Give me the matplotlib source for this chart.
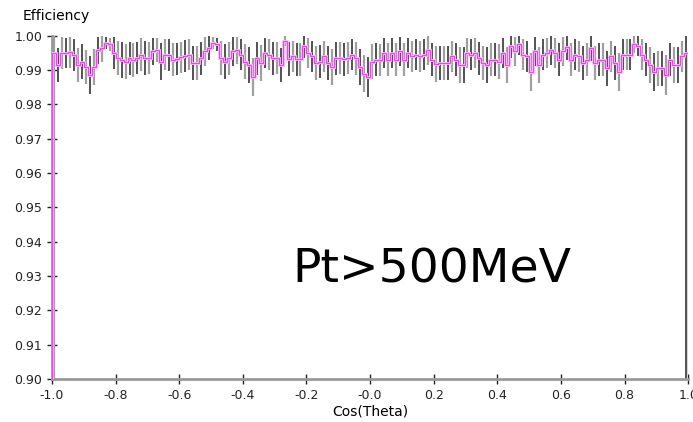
import numpy as np
import matplotlib
matplotlib.use("Agg")
import matplotlib.pyplot as plt
from matplotlib.ticker import FormatStrFormatter

# 160 bins in cos(theta), -1 .. 1
x_lo, x_hi = -1.0, 1.0
n_bins = 160

eff = [
    0.9950, 0.9915, 0.9950, 0.9950, 0.9952, 0.9945, 0.9915, 0.9925, 0.9910, 0.9885,
    0.9910, 0.9958, 0.9965, 0.9980, 0.9975, 0.9950, 0.9935, 0.9930, 0.9925, 0.9935,
    0.9930, 0.9935, 0.9945, 0.9935, 0.9935, 0.9955,
    0.9960, 0.9925, 0.9945, 0.9945, 0.9930, 0.9933, 0.9938, 0.9942, 0.9945, 0.9920,
    0.9920, 0.9935, 0.9955, 0.9965, 0.9980, 0.9975, 0.9935, 0.9925, 0.9935, 0.9955,
    0.9958, 0.9945, 0.9925, 0.9915, 0.9880,
    0.9935, 0.9920, 0.9950, 0.9945, 0.9935, 0.9935, 0.9915, 0.9985, 0.9932, 0.9940,
    0.9932, 0.9932, 0.9970, 0.9950, 0.9940, 0.9920, 0.9925, 0.9940, 0.9920, 0.9910,
    0.9935, 0.9935, 0.9932, 0.9935, 0.9945, 0.9935, 0.9910,
    0.9890, 0.9880, 0.9925, 0.9930, 0.9930, 0.9950, 0.9930, 0.9950, 0.9930, 0.9955,
    0.9930, 0.9950, 0.9940, 0.9945, 0.9940, 0.9945, 0.9958, 0.9930, 0.9918, 0.9920,
    0.9920, 0.9920, 0.9940, 0.9930, 0.9915, 0.9915,
    0.9950, 0.9945, 0.9950, 0.9935, 0.9920, 0.9915, 0.9930, 0.9930, 0.9925, 0.9950,
    0.9915, 0.9970, 0.9955, 0.9975, 0.9945, 0.9940, 0.9895, 0.9955, 0.9915, 0.9945,
    0.9950, 0.9958, 0.9950, 0.9930, 0.9955, 0.9967, 0.9930,
    0.9945, 0.9940, 0.9920, 0.9930, 0.9965, 0.9920, 0.9930, 0.9930, 0.9905, 0.9940,
    0.9920, 0.9895, 0.9945, 0.9945, 0.9945, 0.9975, 0.9970, 0.9945, 0.9930, 0.9915,
    0.9895, 0.9905, 0.9905, 0.9885, 0.9930, 0.9915, 0.9915, 0.9940, 0.9950,
]

err = [
    0.1200, 0.0050, 0.0048, 0.0045, 0.0046, 0.0047, 0.0050, 0.0052, 0.0050, 0.0055,
    0.0052, 0.0040, 0.0042, 0.0018, 0.0020, 0.0048, 0.0050, 0.0052, 0.0050, 0.0048,
    0.0050, 0.0046, 0.0048, 0.0050, 0.0047, 0.0040,
    0.0035, 0.0055, 0.0045, 0.0046, 0.0048, 0.0047, 0.0045, 0.0046, 0.0045, 0.0050,
    0.0050, 0.0048, 0.0042, 0.0035, 0.0018, 0.0020, 0.0050, 0.0052, 0.0048, 0.0042,
    0.0040, 0.0045, 0.0052, 0.0052, 0.0055,
    0.0048, 0.0052, 0.0044, 0.0045, 0.0048, 0.0046, 0.0050, 0.0015, 0.0050, 0.0045,
    0.0048, 0.0048, 0.0035, 0.0044, 0.0046, 0.0050, 0.0048, 0.0046, 0.0050, 0.0052,
    0.0048, 0.0047, 0.0048, 0.0046, 0.0045, 0.0048, 0.0052,
    0.0055, 0.0058, 0.0050, 0.0048, 0.0047, 0.0045, 0.0048, 0.0044, 0.0048, 0.0042,
    0.0048, 0.0044, 0.0046, 0.0045, 0.0046, 0.0045, 0.0042, 0.0048, 0.0052, 0.0050,
    0.0050, 0.0050, 0.0046, 0.0048, 0.0052, 0.0052,
    0.0044, 0.0045, 0.0044, 0.0048, 0.0050, 0.0052, 0.0048, 0.0048, 0.0050, 0.0044,
    0.0052, 0.0035, 0.0042, 0.0030, 0.0045, 0.0046, 0.0055, 0.0042, 0.0052, 0.0045,
    0.0044, 0.0042, 0.0044, 0.0048, 0.0042, 0.0038, 0.0048,
    0.0045, 0.0046, 0.0050, 0.0048, 0.0038, 0.0050, 0.0048, 0.0048, 0.0052, 0.0046,
    0.0050, 0.0055, 0.0045, 0.0045, 0.0045, 0.0025, 0.0030, 0.0045, 0.0048, 0.0052,
    0.0055, 0.0052, 0.0052, 0.0058, 0.0048, 0.0052, 0.0052, 0.0045, 0.1200,
]

edges = np.linspace(x_lo, x_hi, n_bins + 1)
centers = 0.5 * (edges[:-1] + edges[1:])
eff = np.array(eff)
err = np.array(err)

fig = plt.figure(figsize=(6.93, 4.22), dpi=100)
ax = fig.add_axes([0.075, 0.102, 0.918, 0.813])

# error bars, alternating shades like the original (last one dark)
dark = np.arange(n_bins) % 2 == 1
ax.vlines(centers[dark], (eff - err)[dark], (eff + err)[dark], color="#444444", lw=1.3, zorder=2)
ax.vlines(centers[~dark], (eff - err)[~dark], (eff + err)[~dark], color="#a0a0a0", lw=1.6, zorder=2)

# step histogram
ax.stairs(eff, edges, baseline=0.0, color="#ffc4ff", lw=2.0, zorder=3)
ax.stairs(eff, edges, baseline=0.0, color="#ee44ee", lw=0.9, zorder=4)

ax.set_xlim(x_lo, x_hi)
ax.set_ylim(0.90, 1.00)
ax.set_xticks(np.arange(-1.0, 1.01, 0.2))
ax.set_yticks(np.arange(0.90, 1.001, 0.01))
ax.xaxis.set_major_formatter(FormatStrFormatter("%.1f"))
ax.yaxis.set_major_formatter(FormatStrFormatter("%.2f"))
ax.tick_params(direction="inout", length=7, width=1, colors="#222222", labelsize=9)

for s in ["top", "right"]:
    ax.spines[s].set_visible(False)
for s in ["left", "bottom"]:
    ax.spines[s].set_color("#999999")
    ax.spines[s].set_linewidth(2)

ax.set_xlabel("Cos(Theta)", fontsize=10, labelpad=2)
fig.text(0.032, 0.962, "Efficiency", fontsize=10, ha="left", va="center")

ax.text(0.597, 0.318, "Pt>500MeV", transform=ax.transAxes,
        fontsize=34, ha="center", va="center", color="black")

fig.savefig("out.png", dpi=100)
